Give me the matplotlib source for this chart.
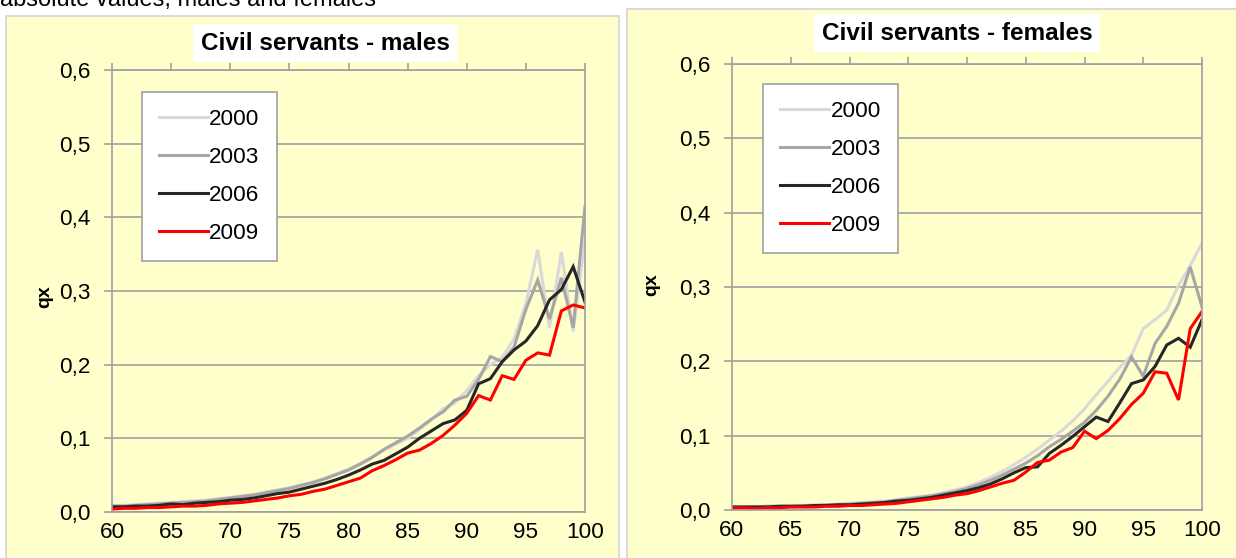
import matplotlib
matplotlib.use("Agg")
import matplotlib.pyplot as plt
from matplotlib.patches import Rectangle
from matplotlib.ticker import FuncFormatter, MultipleLocator

plt.rcParams['font.family'] = ['Liberation Sans', 'DejaVu Sans']

ages = list(range(60, 101))
years = ["2000", "2003", "2006", "2009"]
colors = ["#D9D9D9", "#A6A6A6", "#262626", "#FF0000"]

male_2000 = [0.009, 0.009, 0.010, 0.011, 0.012, 0.013, 0.014, 0.015, 0.016, 0.018,
             0.020, 0.022, 0.024, 0.027, 0.030, 0.033, 0.037, 0.041, 0.046, 0.052,
             0.058, 0.066, 0.075, 0.084, 0.092, 0.100, 0.112, 0.125, 0.140, 0.148,
             0.165, 0.185, 0.200, 0.210, 0.235, 0.283, 0.356, 0.250, 0.353, 0.245,
             0.370]
male_2003 = [0.008, 0.008, 0.009, 0.010, 0.011, 0.012, 0.013, 0.014, 0.015, 0.017,
             0.019, 0.021, 0.023, 0.026, 0.029, 0.032, 0.036, 0.040, 0.045, 0.051,
             0.057, 0.065, 0.074, 0.085, 0.094, 0.103, 0.114, 0.126, 0.136, 0.152,
             0.157, 0.180, 0.211, 0.204, 0.224, 0.275, 0.315, 0.262, 0.318, 0.250,
             0.415]
male_2006 = [0.007, 0.007, 0.008, 0.008, 0.009, 0.011, 0.010, 0.012, 0.013, 0.014,
             0.016, 0.017, 0.019, 0.022, 0.025, 0.027, 0.031, 0.035, 0.039, 0.044,
             0.050, 0.057, 0.065, 0.070, 0.079, 0.088, 0.100, 0.110, 0.120, 0.125,
             0.138, 0.174, 0.181, 0.204, 0.220, 0.232, 0.253, 0.288, 0.302, 0.333,
             0.285]
male_2009 = [0.004, 0.005, 0.005, 0.006, 0.006, 0.007, 0.008, 0.008, 0.009, 0.011,
             0.012, 0.013, 0.015, 0.017, 0.019, 0.022, 0.024, 0.028, 0.031, 0.036,
             0.041, 0.046, 0.056, 0.063, 0.071, 0.080, 0.084, 0.093, 0.104, 0.118,
             0.134, 0.158, 0.152, 0.185, 0.180, 0.206, 0.216, 0.213, 0.273, 0.281,
             0.277]

female_2000 = [0.004, 0.004, 0.005, 0.005, 0.005, 0.006, 0.006, 0.007, 0.007, 0.008,
               0.009, 0.010, 0.011, 0.012, 0.014, 0.016, 0.018, 0.020, 0.023, 0.027,
               0.031, 0.037, 0.044, 0.052, 0.061, 0.071, 0.082, 0.094, 0.106, 0.120,
               0.136, 0.155, 0.173, 0.192, 0.208, 0.244, 0.256, 0.269, 0.302, 0.329,
               0.359]
female_2003 = [0.004, 0.004, 0.004, 0.005, 0.005, 0.005, 0.006, 0.006, 0.007, 0.007,
               0.008, 0.009, 0.010, 0.011, 0.013, 0.015, 0.017, 0.019, 0.022, 0.025,
               0.029, 0.034, 0.040, 0.047, 0.055, 0.063, 0.073, 0.085, 0.095, 0.106,
               0.118, 0.134, 0.153, 0.176, 0.206, 0.180, 0.224, 0.247, 0.278, 0.327,
               0.273]
female_2006 = [0.004, 0.004, 0.004, 0.004, 0.005, 0.005, 0.005, 0.006, 0.006, 0.007,
               0.007, 0.008, 0.009, 0.010, 0.012, 0.013, 0.015, 0.017, 0.020, 0.023,
               0.026, 0.030, 0.035, 0.042, 0.050, 0.057, 0.058, 0.076, 0.087, 0.099,
               0.112, 0.125, 0.119, 0.144, 0.170, 0.175, 0.193, 0.222, 0.231, 0.219,
               0.256]
female_2009 = [0.003, 0.003, 0.002, 0.003, 0.003, 0.004, 0.004, 0.004, 0.005, 0.005,
               0.006, 0.006, 0.007, 0.008, 0.009, 0.011, 0.013, 0.015, 0.017, 0.020,
               0.022, 0.026, 0.031, 0.036, 0.040, 0.051, 0.064, 0.067, 0.078, 0.084,
               0.106, 0.096, 0.107, 0.123, 0.142, 0.157, 0.186, 0.184, 0.148, 0.244,
               0.267]

male_series = [male_2000, male_2003, male_2006, male_2009]
female_series = [female_2000, female_2003, female_2006, female_2009]

W, H = 1236, 558
fig = plt.figure(figsize=(W / 100, H / 100), dpi=100)
fig.patch.set_facecolor("white")

BG = "#FFFFCC"
GRID = "#A0A0A0"


def px_rect(x0, y0, x1, y1):
    return [x0 / W, 1 - y1 / H, (x1 - x0) / W, (y1 - y0) / H]


# panel backgrounds
for (x0, y0, x1, y1) in [(6, 16, 619, 570), (627, 9, 1245, 570)]:
    l, b, w, h = px_rect(x0, y0, x1, y1)
    fig.patches.append(Rectangle((l, b), w, h, transform=fig.transFigure,
                                 facecolor=BG, edgecolor="#D4D4D4", lw=1.2,
                                 zorder=-10))

fig.text(0.0, 1 - 6 / H, "absolute values, males and females", fontsize=17,
         ha="left", va="baseline", color="black")

fmt = FuncFormatter(lambda v, p: f"{v:.1f}".replace(".", ","))
TFS = 16.2


def make_panel(rect, series, title, title_xy, title_fs, leg_xy, ylab_xy):
    ax = fig.add_axes(px_rect(*rect))
    ax.set_zorder(1)
    ax.set_facecolor(BG)
    for s, c, yl in zip(series, colors, years):
        ax.plot(ages, s, color=c, lw=2.2, label=yl, solid_joinstyle="miter")
    ax.set_xlim(60, 100)
    ax.set_ylim(0, 0.6)
    ax.xaxis.set_major_locator(MultipleLocator(5))
    ax.yaxis.set_major_locator(MultipleLocator(0.1))
    ax.yaxis.set_major_formatter(fmt)
    ax.grid(axis="y", color=GRID, lw=1.2)
    ax.set_axisbelow(True)
    for sp in ax.spines.values():
        sp.set_color(GRID)
        sp.set_linewidth(1.2)
    ax.tick_params(axis="x", bottom=False, top=True, labelbottom=True,
                   labeltop=False, direction="out", length=5, width=1.2,
                   color=GRID, pad=2, labelsize=TFS)
    ax.tick_params(axis="y", left=True, direction="out", length=5.5, width=1.2,
                   color=GRID, pad=10, labelsize=TFS)
    leg = ax.legend(loc="upper left", bbox_to_anchor=leg_xy, frameon=True,
                    fancybox=False, framealpha=1, edgecolor="#A0A0A0",
                    fontsize=TFS, handlelength=2.2, handletextpad=0.05,
                    labelspacing=0.76, borderpad=0.75, borderaxespad=0)
    leg.get_frame().set_linewidth(1.2)
    fig.text(title_xy[0] / W, 1 - title_xy[1] / H, title, fontsize=title_fs,
             fontweight="bold", ha="center", va="center", zorder=5,
             bbox=dict(boxstyle="square,pad=0.3", facecolor="white",
                       edgecolor="none"))
    fig.text(ylab_xy[0] / W, 1 - ylab_xy[1] / H, "qx", fontsize=14,
             fontweight="bold", rotation=90, ha="center", va="center")
    return ax


make_panel((112, 70, 585, 512), male_series, "Civil servants - males",
           (325, 43), 17.5, (0.063, 0.95), (45, 297))
make_panel((732, 64, 1202, 510), female_series, "Civil servants - females",
           (957, 33), 17.5, (0.066, 0.955), (652, 285))

fig.savefig("out.png", dpi=100, facecolor=fig.get_facecolor())
